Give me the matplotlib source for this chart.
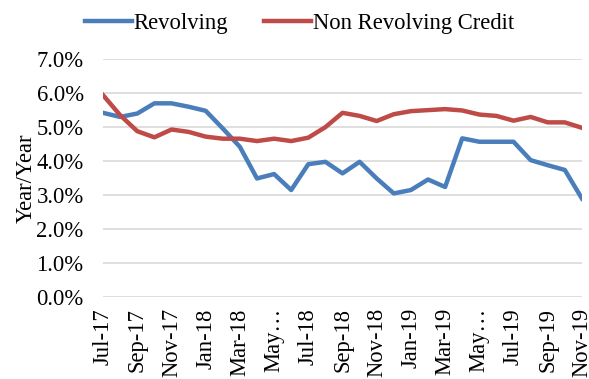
import matplotlib
matplotlib.use("Agg")
import matplotlib.pyplot as plt
from matplotlib.ticker import FuncFormatter

months = ["Jul-17","Aug-17","Sep-17","Oct-17","Nov-17","Dec-17","Jan-18","Feb-18","Mar-18","Apr-18",
          "May-18","Jun-18","Jul-18","Aug-18","Sep-18","Oct-18","Nov-18","Dec-18","Jan-19","Feb-19",
          "Mar-19","Apr-19","May-19","Jun-19","Jul-19","Aug-19","Sep-19","Oct-19","Nov-19"]
tick_labels = ["Jul-17","Sep-17","Nov-17","Jan-18","Mar-18","May…","Jul-18","Sep-18","Nov-18",
               "Jan-19","Mar-19","May…","Jul-19","Sep-19","Nov-19"]
revolving = [5.42,5.30,5.40,5.70,5.70,5.60,5.48,4.96,4.42,3.49,3.62,3.15,3.91,3.98,
             3.64,3.98,3.49,3.05,3.15,3.46,3.24,4.67,4.57,4.57,4.57,4.03,3.88,3.74,2.90]
non_revolving = [5.94,5.35,4.88,4.70,4.93,4.86,4.72,4.66,4.66,4.59,4.66,4.59,4.69,5.00,
                 5.42,5.33,5.18,5.38,5.47,5.50,5.53,5.49,5.37,5.33,5.19,5.30,5.14,5.14,4.98]

plt.rcParams['font.family'] = ['Liberation Serif', 'DejaVu Serif']
FS = 16.3
fig = plt.figure(figsize=(5.89, 3.79), dpi=100)
ax = fig.add_axes([0.175, 0.216, 0.813, 0.628])

x = list(range(len(months)))
l1, = ax.plot(x, revolving, color="#4A7EBB", lw=3.2, solid_joinstyle="round", label="Revolving")
l2, = ax.plot(x, non_revolving, color="#BE4B48", lw=3.2, solid_joinstyle="round", label="Non Revolving Credit")

ax.set_xlim(0, len(months) - 1)
ax.set_ylim(0, 7)
ax.set_yticks(range(0, 8))
ax.yaxis.set_major_formatter(FuncFormatter(lambda v, p: f"{v:.1f}%"))
ax.set_xticks(x[::2])
ax.set_xticklabels(tick_labels, rotation=90)
ax.grid(axis="y", color="#D9D9D9", lw=1.2)
ax.set_axisbelow(True)
for s in ax.spines.values():
    s.set_visible(False)
ax.tick_params(length=0, labelsize=FS)
ax.tick_params(axis="y", pad=14)
ax.tick_params(axis="x", pad=8)
ax.set_ylabel("Year/Year", fontsize=FS, labelpad=0)

fig.legend(handles=[l1, l2], loc="center", bbox_to_anchor=(0.508, 0.939), ncol=2, frameon=False,
           fontsize=FS, handlelength=2.1, handletextpad=0.05, columnspacing=1.6)

fig.savefig("out.png", dpi=100)
